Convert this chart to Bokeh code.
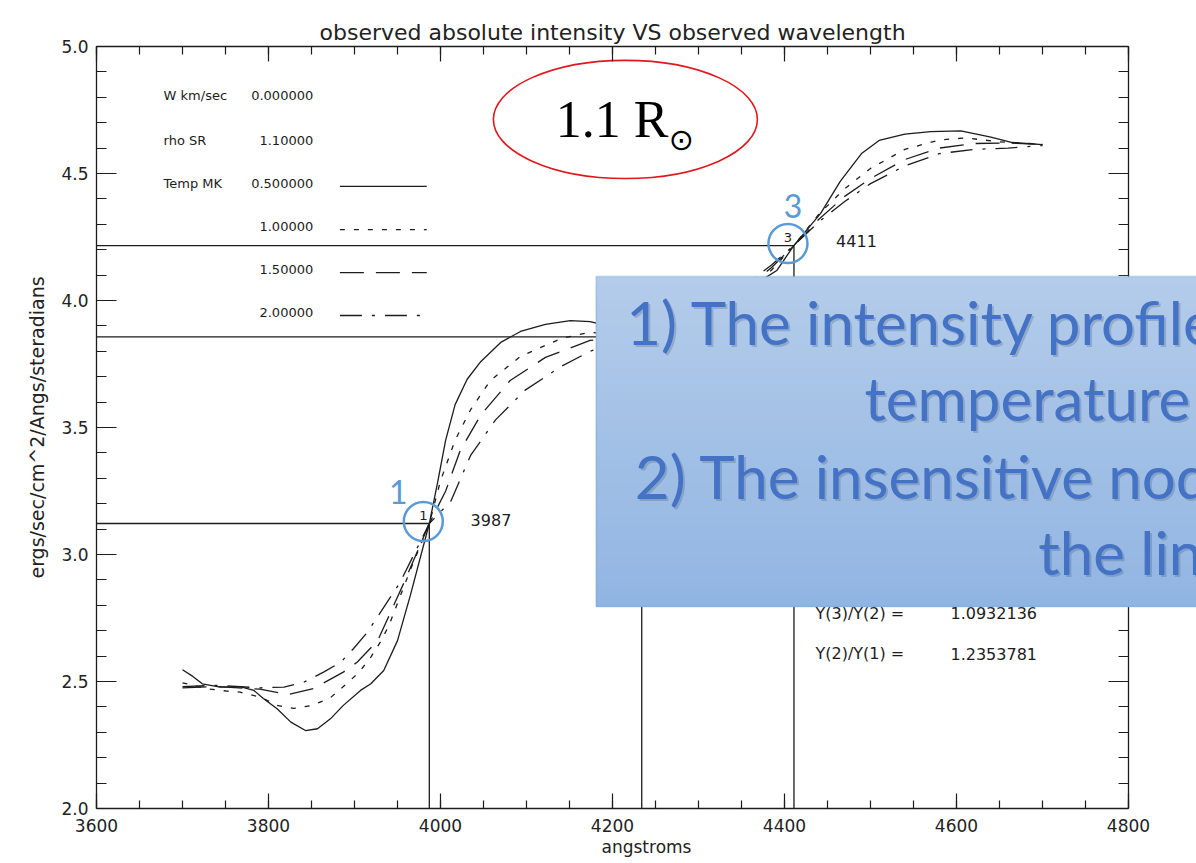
import numpy as np
from bokeh.plotting import figure
from bokeh.models import (LinearAxis, SingleIntervalTicker, BoxAnnotation, Label,
                          Range1d, CustomJSTickFormatter, NumeralTickFormatter)
from bokeh.core.properties import value
from bokeh.embed import file_html
from bokeh.resources import INLINE

# ---- model line profiles: absolute intensity vs observed wavelength ----
wl_t05 = [3700, 3712, 3723, 3744, 3767, 3783, 3794, 3810, 3826, 3843, 3857, 3872, 3887,
          3907, 3919, 3934, 3950, 3965, 3987, 3997, 4006, 4017, 4031, 4047, 4070, 4093,
          4122, 4151, 4174, 4200, 4234, 4260, 4300, 4340, 4378, 4391, 4411, 4442, 4465,
          4490, 4510, 4540, 4570, 4605, 4640, 4665, 4700]
int_t05 = [2.546, 2.52, 2.491, 2.478, 2.480, 2.465, 2.433, 2.393, 2.34, 2.307, 2.314, 2.353,
           2.406, 2.465, 2.491, 2.543, 2.661, 2.84, 3.122, 3.29, 3.45, 3.59, 3.69, 3.76,
           3.835, 3.878, 3.906, 3.921, 3.917, 3.895, 3.857, 3.86, 3.91, 3.99, 4.09, 4.118,
           4.217, 4.343, 4.47, 4.58, 4.63, 4.655, 4.665, 4.668, 4.643, 4.622, 4.614]

wl_t10 = [3700, 3729, 3752, 3767, 3791, 3810, 3829, 3851, 3872, 3887, 3905, 3919, 3930,
          3940, 3965, 3987, 4000, 4017, 4035, 4058, 4093, 4140, 4174, 4200, 4234, 4270,
          4310, 4350, 4385, 4411, 4440, 4470, 4500, 4540, 4580, 4610, 4650, 4700]
int_t10 = [2.495, 2.471, 2.462, 2.458, 2.438, 2.406, 2.394, 2.406, 2.436, 2.48, 2.535,
           2.596, 2.655, 2.72, 2.94, 3.122, 3.29, 3.45, 3.57, 3.685, 3.78, 3.85, 3.875,
           3.866, 3.857, 3.87, 3.93, 4.02, 4.12, 4.217, 4.34, 4.44, 4.52, 4.595, 4.632,
           4.64, 4.625, 4.615]

wl_t15 = [3700, 3740, 3790, 3823, 3852, 3887, 3903, 3927, 3959, 3987, 4006, 4023, 4047,
          4081, 4122, 4174, 4200, 4234, 4270, 4310, 4350, 4385, 4411, 4440, 4470, 4500,
          4540, 4580, 4620, 4660, 4700]
int_t15 = [2.475, 2.48, 2.47, 2.449, 2.472, 2.537, 2.576, 2.661, 2.90, 3.122, 3.25, 3.41,
           3.55, 3.685, 3.776, 3.843, 3.85, 3.857, 3.88, 3.94, 4.03, 4.13, 4.217, 4.32,
           4.41, 4.48, 4.555, 4.60, 4.618, 4.62, 4.615]

wl_t20 = [3700, 3740, 3790, 3818, 3841, 3864, 3884, 3899, 3915, 3953, 3987, 4012, 4035,
          4064, 4098, 4140, 4174, 4200, 4234, 4270, 4310, 4350, 4385, 4411, 4440, 4470,
          4500, 4540, 4580, 4620, 4660, 4700]
int_t20 = [2.48, 2.485, 2.475, 2.478, 2.497, 2.537, 2.576, 2.63, 2.694, 2.89, 3.122, 3.21,
           3.39, 3.53, 3.646, 3.74, 3.80, 3.83, 3.857, 3.89, 3.96, 4.05, 4.14, 4.217, 4.31,
           4.39, 4.46, 4.53, 4.578, 4.595, 4.60, 4.61]

temp_labels = ["0.500000", "1.00000", "1.50000", "2.00000"]
line_styles = ["solid", "5 9", "24 12", "22 10 3 10"]

# ---- insensitive nodes ----
node_names = ["1", "2", "3"]
node_wl = [3987, 4234, 4411]
y_node1 = 3.122
ratio_32 = 1.0932136
ratio_21 = 1.2353781
node_int = [y_node1, y_node1 * ratio_21, y_node1 * ratio_21 * ratio_32]

INK = "#1c1c1c"
BLUE = "#5b9bd5"
AXFONT = "DejaVu Sans"

WL_MIN, WL_MAX = 3600, 4800
I_MIN, I_MAX = 2.0, 5.0
# the frame runs on past the plotted box so the call-out can reach the page edge
WL_VIEW_END = WL_MAX + 68 / 0.86

p = figure(width=1196, height=863, x_range=Range1d(WL_MIN, WL_VIEW_END),
           y_range=Range1d(I_MIN, I_MAX),
           output_backend="svg", toolbar_location=None,
           min_border_left=96, min_border_right=0, min_border_top=46, min_border_bottom=55,
           title="observed absolute intensity VS observed wavelength")
p.background_fill_color = "white"
p.border_fill_color = "white"
p.grid.visible = False
p.outline_line_color = None

p.title.align = "left"
p.title.offset = 223
p.title.text_font = AXFONT
p.title.text_font_size = "22px"
p.title.text_font_style = "normal"
p.title.text_color = "#222222"
p.title.standoff = 4

p.xaxis.ticker = SingleIntervalTicker(interval=200, num_minor_ticks=4)
p.yaxis.ticker = SingleIntervalTicker(interval=0.5, num_minor_ticks=5)
p.yaxis.formatter = NumeralTickFormatter(format="0.0")
p.xaxis.axis_label = "angstroms"
p.yaxis.axis_label = "ergs/sec/cm^2/Angs/steradians"


def style_axis(ax, major, minor):
    ax.axis_line_color = INK
    ax.axis_line_width = 1.3
    ax.major_tick_line_color = INK
    ax.minor_tick_line_color = INK
    ax.major_tick_line_width = 1.2
    ax.minor_tick_line_width = 1.2
    ax.major_tick_in = major
    ax.major_tick_out = 0
    ax.minor_tick_in = minor
    ax.minor_tick_out = 0
    ax.major_label_text_font = AXFONT
    ax.major_label_text_font_size = "17px"
    ax.major_label_text_color = "#222222"
    ax.axis_label_text_font = AXFONT
    ax.axis_label_text_font_size = "17px"
    ax.axis_label_text_font_style = "normal"
    ax.axis_label_text_color = "#222222"


for ax in p.xaxis:
    style_axis(ax, 15, 8)
    ax.bounds = (WL_MIN, WL_MAX)
    ax.major_label_standoff = 10
    ax.axis_label_standoff = 2
for ax in p.yaxis:
    style_axis(ax, 20, 10)
    ax.major_label_standoff = 8
    ax.axis_label_standoff = 10
    ax.axis_label_text_font_size = "19px"

blank = CustomJSTickFormatter(code="return ''")
top_ax = LinearAxis(ticker=SingleIntervalTicker(interval=200, num_minor_ticks=4),
                    formatter=blank, bounds=(WL_MIN, WL_MAX))
right_ax = LinearAxis(ticker=SingleIntervalTicker(interval=0.5, num_minor_ticks=5),
                      formatter=blank, bounds=(I_MIN, I_MAX), fixed_location=WL_MAX)
style_axis(top_ax, 15, 8)
style_axis(right_ax, 20, 10)
for ax in (top_ax, right_ax):
    ax.major_label_text_font_size = "0px"
    ax.major_label_standoff = 0
p.add_layout(top_ax, "above")
p.add_layout(right_ax, "right")

# ---- node guide lines ----
p.segment(x0=[WL_MIN] * 3, y0=node_int, x1=node_wl, y1=node_int, line_color=INK, line_width=1.3)
p.segment(x0=node_wl, y0=[I_MIN] * 3, x1=node_wl, y1=node_int, line_color=INK, line_width=1.3)

# ---- profiles ----
series = [(wl_t05, int_t05), (wl_t10, int_t10), (wl_t15, int_t15), (wl_t20, int_t20)]
for (wl, it), dash in zip(series, line_styles):
    p.line(wl, it, line_color=INK, line_width=1.3, line_dash=dash)

# ---- parameter table ----
leg_label_x = 3678
leg_value_x = 3852
leg_line_x = (3883, 3984)
leg_rows = [4.807, 4.630, 4.461, 4.291, 4.122, 3.953]
param_names = ["W km/sec", "rho SR", "Temp MK"]
param_values = ["0.000000", "1.10000"] + temp_labels
p.text(x=[leg_label_x] * 3, y=leg_rows[:3], text=param_names, text_font=value(AXFONT),
       text_font_size="13px", text_color=INK, text_baseline="middle", text_align="left")
p.text(x=[leg_value_x] * 6, y=leg_rows, text=param_values, text_font=value(AXFONT),
       text_font_size="13px", text_color=INK, text_baseline="middle", text_align="right")
for yy, dash in zip(leg_rows[2:], line_styles):
    p.line([leg_line_x[0], leg_line_x[1]], [yy - 0.012, yy - 0.012], line_color=INK,
           line_width=1.3, line_dash=dash)

# ---- node markers and labels ----
circ_wl = [w - 7 for w in node_wl]
circ_int = [v + 0.008 for v in node_int]
p.scatter(circ_wl, circ_int, size=39, marker="circle", fill_color=None,
          line_color=BLUE, line_width=2.5)
p.text(x=circ_wl, y=[v + 0.024 for v in circ_int], text=node_names, text_font=value(AXFONT),
       text_font_size="13px", text_color=INK, text_align="center", text_baseline="middle")
p.text(x=[3951, 4228, 4410], y=[3.248, 4.04, 4.374], text=node_names, text_font=value("Lato"),
       text_font_size="32px", text_color=BLUE, text_align="center", text_baseline="middle")
p.text(x=[4035, 4205, 4460], y=[3.134, 3.87, 4.236], text=[str(w) for w in node_wl],
       text_font=value(AXFONT), text_font_size="16px", text_color=INK, text_baseline="middle")

# ratio read-out
ratio_rows = [2.768, 2.610]
p.text(x=[4436] * 2, y=ratio_rows, text=["Y(3)/Y(2) =", "Y(2)/Y(1) ="], text_font=value(AXFONT),
       text_font_size="16px", text_color=INK, text_baseline="middle")
p.text(x=[4593] * 2, y=ratio_rows, text=[f"{ratio_32:.7f}", f"{ratio_21:.7f}"],
       text_font=value(AXFONT), text_font_size="16px", text_color=INK, text_baseline="middle")

# ---- radius tag ----
p.ellipse(x=[4215], y=[4.713], width=307, height=0.465, fill_color=None,
          line_color="#e3161c", line_width=1.6)
p.text(x=[4134], y=[4.713], text=["1.1 R"], text_font=value("Liberation Serif"),
       text_font_size="52px", text_color="black", text_baseline="middle")
p.text(x=[4280], y=[4.634], text=["⊙"], text_font=value("DejaVu Sans"),
       text_font_size="30px", text_color="black", text_align="center", text_baseline="middle")

# ---- call-out box ----
box_left, box_right, box_top, box_bottom = 4181, 4900, 4.0945, 2.7953
top_rgb = np.array([180, 204, 234])
bot_rgb = np.array([145, 181, 226])
nb = 40
edges = np.linspace(box_top, box_bottom, nb + 1)
for i in range(nb):
    c = top_rgb + (bot_rgb - top_rgb) * (i + 0.5) / nb
    col = "#%02x%02x%02x" % tuple(int(round(v)) for v in c)
    # each band runs to the bottom so neighbouring bands never leave a seam
    p.add_layout(BoxAnnotation(left=box_left, right=box_right, top=edges[i], bottom=box_bottom,
                               fill_color=col, fill_alpha=1.0, line_alpha=0, level="overlay"))
p.add_layout(BoxAnnotation(left=box_left, right=box_right, top=box_top, bottom=box_bottom,
                           fill_alpha=0, line_color="#6c9fd8", line_width=2, level="overlay"))

callout = [("1) The intensity profiles", 4216, 3.914),
           ("temperature", 4493, 3.618),
           ("2) The insensitive nodes", 4226, 3.311),
           ("the line", 4695, 3.008)]
for txt, xx, yy in callout:
    p.add_layout(Label(x=xx, y=yy, text=txt, text_font="Lato", text_font_size="60px",
                       text_color="#2c3e60", text_alpha=0.22, text_baseline="middle",
                       x_offset=2, y_offset=-2, level="overlay"))
    p.add_layout(Label(x=xx, y=yy, text=txt, text_font="Lato", text_font_size="60px",
                       text_color="#4472c4", text_baseline="middle", level="overlay"))

open("out.html", "w").write(file_html(p, INLINE))
